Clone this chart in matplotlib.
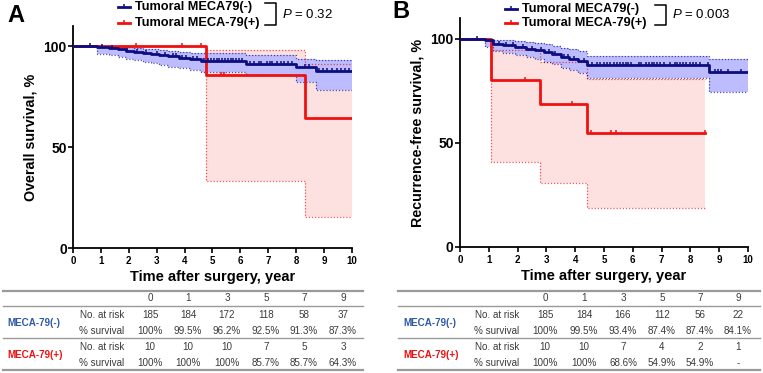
import numpy as np
import matplotlib
matplotlib.use("Agg")
import matplotlib.pyplot as plt
from matplotlib.lines import Line2D
from matplotlib.path import Path

plt.rcParams['font.family'] = ['Liberation Sans', 'DejaVu Sans']
plt.rcParams['mathtext.fontset'] = 'custom'
plt.rcParams['mathtext.it'] = 'Liberation Sans:italic'
plt.rcParams['mathtext.rm'] = 'Liberation Sans'

W, H = 763, 373

# ---------------- data: panel A (overall survival) ----------------
a_neg_t = [0, 0.86, 1.3, 1.6, 1.9, 2.2, 2.5, 2.8, 3.1, 3.4, 3.8, 4.2, 4.6, 6.2, 8.0, 8.7, 10.0]
a_neg_s = [100, 99.5, 99.0, 98.4, 97.8, 97.3, 96.7, 96.2, 95.6, 95.0, 94.3, 93.5, 92.6, 91.3, 89.5, 87.6, 87.6]
a_neg_hi = [100, 100, 100, 99.8, 99.5, 99.2, 98.8, 98.5, 98.1, 97.7, 97.3, 96.8, 96.5, 95.5, 93.6, 93.0, 93.0]
a_neg_lo = [100, 96.3, 95.5, 94.7, 93.8, 93.0, 92.2, 91.5, 90.7, 89.9, 89.0, 88.0, 87.0, 85.6, 82.3, 78.5, 78.5]
a_neg_cens = [0.6, 1.05, 1.4, 1.95, 2.3, 2.6, 3.0, 3.3, 3.6, 3.7, 3.9, 4.05, 4.3, 4.45, 4.7, 4.85,
              4.95, 5.05, 5.15, 5.25, 5.35, 5.45, 5.55, 5.65, 5.75, 5.85, 5.95, 6.05, 6.35, 6.5,
              6.65, 6.75, 6.95, 7.05, 7.15, 7.3, 7.45, 7.55, 7.7, 7.85, 8.3, 8.45, 8.8, 8.95,
              9.1, 9.3, 9.45, 9.6, 9.75, 9.9]

a_pos_t = [0, 4.75, 8.3, 10.0]
a_pos_s = [100, 85.7, 64.3, 64.3]
a_pos_hi = [100, 97.9, 91.0, 91.0]
a_pos_lo = [100, 33.4, 15.2, 15.2]
a_pos_cens = [2.25, 3.9, 4.6, 5.3, 5.4]

# ---------------- data: panel B (recurrence-free survival) ----------------
b_neg_t = [0, 0.87, 1.15, 1.5, 1.9, 2.3, 2.6, 2.9, 3.2, 3.5, 3.8, 4.1, 4.4, 8.65, 10.0]
b_neg_s = [100, 99.3, 97.4, 96.8, 96.0, 95.2, 94.4, 93.6, 92.8, 91.5, 90.5, 89.4, 87.5, 84.1, 84.1]
b_neg_hi = [100, 100, 99.5, 99.3, 99.0, 98.5, 97.9, 97.3, 96.6, 95.8, 95.0, 94.0, 91.6, 90.5, 90.5]
b_neg_lo = [100, 96.2, 94.3, 93.4, 92.2, 91.2, 90.1, 89.0, 87.9, 86.2, 85.0, 83.5, 81.2, 74.5, 74.5]
b_neg_cens = [0.6, 1.35, 1.6, 1.85, 2.2, 2.5, 2.8, 3.1, 3.3, 3.6, 3.75, 3.95, 4.1, 4.3, 4.6, 4.75,
              4.85, 5.0, 5.1, 5.2, 5.35, 5.45, 5.55, 5.65, 5.75, 5.85, 5.95, 6.2, 6.3, 6.45,
              6.55, 6.65, 6.75, 6.85, 6.95, 7.1, 7.3, 7.45, 7.55, 7.65, 7.75, 7.85, 8.0, 8.1,
              8.2, 8.35, 8.6, 8.85, 8.95, 9.05, 9.3, 9.75]

b_pos_t = [0, 1.08, 2.78, 4.42, 8.5]
b_pos_s = [100, 80.0, 68.6, 54.9, 54.9]
b_pos_hi = [100, 94.7, 88.8, 80.7, 80.7]
b_pos_lo = [100, 40.8, 30.6, 18.8, 18.8]
b_pos_cens = [2.25, 3.9, 4.55, 5.25, 5.4, 8.5]

# ---------------- tables ----------------
tab_years = ['0', '1', '3', '5', '7', '9']
a_neg_risk = ['185', '184', '172', '118', '58', '37']
a_neg_pct = ['100%', '99.5%', '96.2%', '92.5%', '91.3%', '87.3%']
a_pos_risk = ['10', '10', '10', '7', '5', '3']
a_pos_pct = ['100%', '100%', '100%', '85.7%', '85.7%', '64.3%']
b_neg_risk = ['185', '184', '166', '112', '56', '22']
b_neg_pct = ['100%', '99.5%', '93.4%', '87.4%', '87.4%', '84.1%']
b_pos_risk = ['10', '10', '7', '4', '2', '1']
b_pos_pct = ['100%', '100%', '68.6%', '54.9%', '54.9%', '-']

BLUE = '#0d0d80'
BLUE_FILL = '#bcbcff'
RED = '#f01010'
RED_FILL = '#fde0e0'
TICK = Path([(0, 0), (0, 1)])


def fx(x):
    return x / W


def fy(y):
    return 1 - y / H


def step_with_ci(ax, t, s, lo, hi, cens, color, fill):
    t = np.asarray(t)
    ax.fill_between(t, lo, hi, step='post', color=fill, lw=0, zorder=1)
    ax.step(t, hi, where='post', color=color, lw=0.9, ls=(0, (1, 1.5)), alpha=0.7, zorder=2)
    ax.step(t, lo, where='post', color=color, lw=0.9, ls=(0, (1, 1.5)), alpha=0.7, zorder=2)
    ax.step(t, s, where='post', color=color, lw=2.0, zorder=4)
    # censored subjects sit on the current step value
    idx = np.searchsorted(t, cens, side='right') - 1
    cs = np.asarray(s)[idx]
    ax.plot(cens, cs, ls='none', marker=TICK, ms=5, mew=1.1, color=color, zorder=5)


fig = plt.figure(figsize=(W / 100, H / 100), dpi=100)

axA = fig.add_axes([fx(73), fy(248), fx(352 - 73), (248 - 26) / H])
axB = fig.add_axes([fx(460), fy(247), fx(748 - 460), (247 - 18) / H])

step_with_ci(axA, a_pos_t, a_pos_s, a_pos_lo, a_pos_hi, a_pos_cens, RED, RED_FILL)
step_with_ci(axA, a_neg_t, a_neg_s, a_neg_lo, a_neg_hi, a_neg_cens, BLUE, BLUE_FILL)
step_with_ci(axB, b_pos_t, b_pos_s, b_pos_lo, b_pos_hi, b_pos_cens, RED, RED_FILL)
step_with_ci(axB, b_neg_t, b_neg_s, b_neg_lo, b_neg_hi, b_neg_cens, BLUE, BLUE_FILL)

for ax, ylab in [(axA, 'Overall survival, %'), (axB, 'Recurrence-free survival, %')]:
    ax.set_xlim(0, 10)
    ax.set_ylim(0, 110)
    ax.set_xticks(range(11))
    ax.set_yticks([0, 50, 100])
    for sp in ['top', 'right']:
        ax.spines[sp].set_visible(False)
    for sp in ['left', 'bottom']:
        ax.spines[sp].set_linewidth(1.3)
    ax.tick_params(axis='x', length=3.5, width=1.2, labelsize=7, pad=2)
    ax.tick_params(axis='y', length=3.5, width=1.2, labelsize=10, pad=1)
    for lb in ax.get_xticklabels() + ax.get_yticklabels():
        lb.set_fontweight('bold')
    ax.set_ylabel(ylab, fontsize=10.3, fontweight='bold', labelpad=4)
    ax.set_xlabel('Time after surgery, year', fontsize=10.5, fontweight='bold', labelpad=3)

# panel letters
fig.text(fx(7), fy(15), 'A', fontsize=17, fontweight='bold', va='center')
fig.text(fx(392), fy(11), 'B', fontsize=17, fontweight='bold', va='center')


def legend(x0, y1, y2, bx, ptxt):
    for y, col, lab in [(y1, BLUE, 'Tumoral MECA79(-)'), (y2, RED, 'Tumoral MECA-79(+)')]:
        fig.add_artist(Line2D([fx(x0), fx(x0 + 12)], [fy(y), fy(y)], color=col, lw=2,
                              transform=fig.transFigure))
        fig.add_artist(Line2D([fx(x0 + 6)], [fy(y)], marker=TICK, ms=5, mew=1.1, color=col,
                              transform=fig.transFigure))
        fig.text(fx(x0 + 17), fy(y), lab, fontsize=9.2, fontweight='bold', va='center')
    top, bot = y1 - 4, y2 + 2
    fig.add_artist(Line2D([fx(bx - 11), fx(bx), fx(bx), fx(bx - 11)],
                          [fy(top), fy(top), fy(bot), fy(bot)], color='black', lw=1.1,
                          transform=fig.transFigure))
    fig.text(fx(bx + 6), fy((top + bot) / 2), ptxt, fontsize=9.5, va='center')


legend(118, 7, 23, 276, '$P$ = 0.32')
legend(505, 9, 23, 666, '$P$ = 0.003')


def table(x0, x1, lab_x, risk_x, cols_x, neg_risk, neg_pct, pos_risk, pos_pct):
    for y, lw in [(291, 1.6), (306, 1.0), (338, 1.0), (370, 1.6)]:
        fig.add_artist(Line2D([fx(x0), fx(x1)], [fy(y), fy(y)], color='#9a9a9a', lw=lw,
                              transform=fig.transFigure))
    tc = '#3a3a3a'
    fs = 7.1
    for cx, yr in zip(cols_x, tab_years):
        fig.text(fx(cx), fy(298), yr, fontsize=fs, color=tc, ha='center', va='center')
    rows = [(315, 'No. at risk', neg_risk), (331, '% survival', neg_pct),
            (347, 'No. at risk', pos_risk), (363, '% survival', pos_pct)]
    for y, name, vals in rows:
        fig.text(fx(risk_x), fy(y), name, fontsize=fs, color=tc, ha='center', va='center')
        for cx, v in zip(cols_x, vals):
            fig.text(fx(cx), fy(y), v, fontsize=fs, color=tc, ha='center', va='center')
    fig.text(fx(lab_x), fy(323), 'MECA-79(-)', fontsize=fs, color='#2f5aa8',
             fontweight='bold', ha='left', va='center')
    fig.text(fx(lab_x), fy(355), 'MECA-79(+)', fontsize=fs, color='#ee1111',
             fontweight='bold', ha='left', va='center')


table(3, 363, 7, 102, [150, 188, 227, 266, 304, 343],
      a_neg_risk, a_neg_pct, a_pos_risk, a_pos_pct)
table(398, 760, 403, 497, [545, 584, 623, 662, 700, 738],
      b_neg_risk, b_neg_pct, b_pos_risk, b_pos_pct)

fig.savefig('out.png', dpi=100)
